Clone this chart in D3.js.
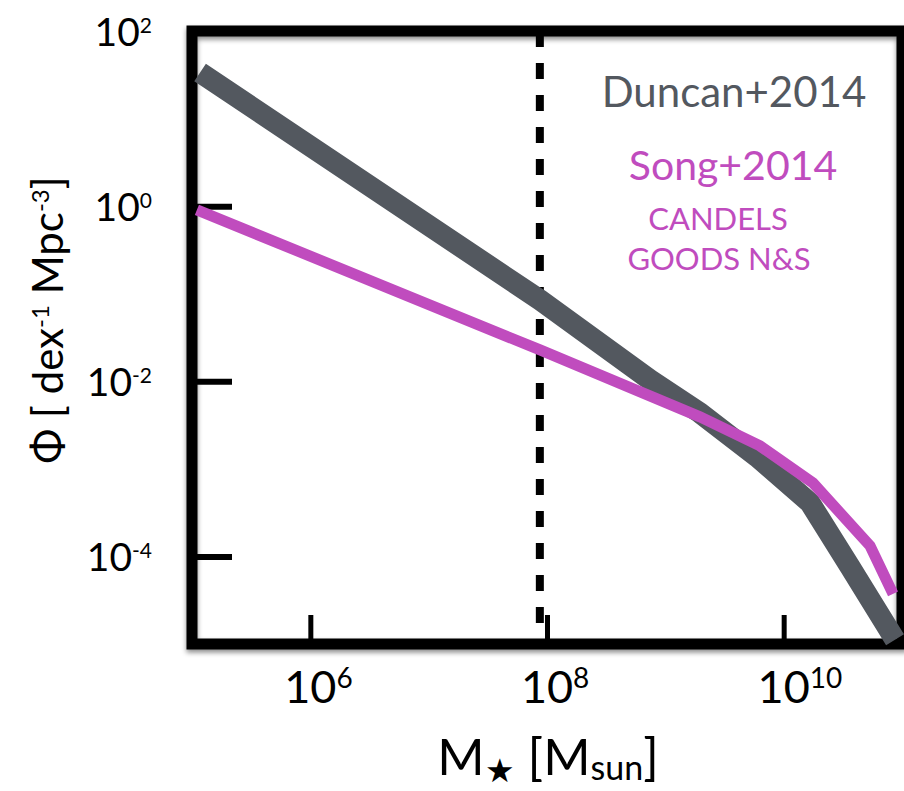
<!DOCTYPE html>
<html>
<head>
<meta charset="utf-8">
<script src="https://cdn.jsdelivr.net/npm/d3@7"></script>
<style>
  html, body { margin: 0; padding: 0; background: #ffffff; }
  svg { display: block; }
  text { font-family: Lato, "Open Sans", sans-serif; }
</style>
</head>
<body>
<svg id="chart" width="904" height="791"></svg>
<script>
// Stellar mass axis ticks (log scale)
const massTicks = [1e6, 1e8, 1e10];
const massTickExp = ["6", "8", "10"];

// Number density axis ticks (log scale)
const phiTicks = [1e2, 1e0, 1e-2, 1e-4];
const phiTickExp = ["2", "0", "-2", "-4"];
const phiTickMarks = [1e0, 1e-2, 1e-4];

// Duncan+2014 mass function
const duncanMass = [1.17e5, 8.73e7, 7.43e8, 1.96e9, 5.96e9, 1.67e10, 3.64e10, 8.73e10];
const duncanPhi  = [33.6, 0.0849, 0.0104, 0.00436, 0.00137, 4.09e-4, 7.6e-5, 1.12e-5];

// Song+2014 mass function (CANDELS GOODS N&S)
const songMass = [1.1e5, 8.73e7, 1.96e9, 6.3e9, 1.77e10, 5.37e10, 8.4e10];
const songPhi  = [0.906, 0.0228, 0.00393, 0.00183, 6.9e-4, 1.32e-4, 3.74e-5];

// Mass completeness limit (dashed vertical line)
const massLimit = 8.7e7;

const GREY = "#53585f";
const MAGENTA = "#c04cbe";

const svg = d3.select("#chart");

const x = d3.scaleLog().domain([1e5, 1e11]).range([192, 902]);
const y = d3.scaleLog().domain([1e-5, 1e2]).range([644, 31]);

// soft shadow under the frame
const defs = svg.append("defs");
const f = defs.append("filter").attr("id", "frameShadow")
  .attr("x", "-5%").attr("y", "-5%").attr("width", "110%").attr("height", "110%");
f.append("feDropShadow").attr("dx", 0).attr("dy", 3)
  .attr("stdDeviation", 2.5).attr("flood-color", "#000").attr("flood-opacity", 0.45);

// tick marks pointing inward
const yAxis = svg.append("g").attr("transform", `translate(${x.range()[0]},0)`)
  .call(d3.axisLeft(y).tickValues(phiTickMarks).tickSize(-40).tickFormat(""));
yAxis.select(".domain").remove();
yAxis.selectAll(".tick line").attr("stroke", "#000").attr("stroke-width", 6);

const xAxis = svg.append("g").attr("transform", `translate(0,${y.range()[0]})`)
  .call(d3.axisBottom(x).tickValues(massTicks).tickSize(-29).tickFormat(""));
xAxis.select(".domain").remove();
xAxis.selectAll(".tick line").attr("stroke", "#000").attr("stroke-width", 5);

// dashed completeness limit
svg.append("line")
  .attr("x1", x(massLimit)).attr("x2", x(massLimit))
  .attr("y1", y(1e2)).attr("y2", y(1e-5))
  .attr("stroke", "#000").attr("stroke-width", 8)
  .attr("stroke-dasharray", "16,16");

// frame
svg.append("rect")
  .attr("x", x.range()[0]).attr("y", y.range()[1])
  .attr("width", x.range()[1] - x.range()[0])
  .attr("height", y.range()[0] - y.range()[1])
  .attr("fill", "none").attr("stroke", "#000").attr("stroke-width", 11)
  .attr("filter", "url(#frameShadow)");

// mass function curves
const line = d3.line().x(d => x(d[0])).y(d => y(d[1]));

svg.append("path")
  .datum(duncanMass.map((m, i) => [m, duncanPhi[i]]))
  .attr("d", line)
  .attr("fill", "none").attr("stroke", GREY).attr("stroke-width", 21)
  .attr("stroke-linejoin", "miter");

svg.append("path")
  .datum(songMass.map((m, i) => [m, songPhi[i]]))
  .attr("d", line)
  .attr("fill", "none").attr("stroke", MAGENTA).attr("stroke-width", 11)
  .attr("stroke-linejoin", "miter");

// y tick labels
const yl = svg.append("g").selectAll("text").data(phiTicks).join("text")
  .attr("x", 152).attr("y", d => y(d) + 15)
  .attr("text-anchor", "end").attr("font-size", 39).attr("fill", "#000");
yl.append("tspan").text("10");
yl.append("tspan").attr("dy", -13).attr("font-size", 21).text((d, i) => phiTickExp[i]);

// x tick labels: the "10" is centred on its tick
const xl = svg.append("g").selectAll("text").data(massTicks).join("text")
  .attr("y", 703).attr("font-size", 45).attr("fill", "#000");
xl.append("tspan").text("10");
xl.append("tspan").attr("dy", -15).attr("font-size", 28).text((d, i) => massTickExp[i]);
xl.attr("x", function (d) {
  const w = this.firstChild.getComputedTextLength();
  return x(d) - w / 2;
});

// y axis title
const yt = svg.append("text")
  .attr("transform", "translate(63,320) rotate(-90)")
  .attr("text-anchor", "middle").attr("font-size", 42).attr("fill", "#000");
yt.append("tspan").text("\u03A6 [ dex");
yt.append("tspan").attr("dy", -14).attr("font-size", 24).text("-1");
yt.append("tspan").attr("dy", 14).text(" Mpc");
yt.append("tspan").attr("dy", -14).attr("font-size", 24).text("-3");
yt.append("tspan").attr("dy", 14).text("]");

// x axis title
const xt = svg.append("text")
  .attr("x", 548).attr("y", 775)
  .attr("text-anchor", "middle").attr("font-size", 51).attr("fill", "#000");
xt.append("tspan").text("M");
xt.append("tspan").attr("dy", 7).attr("font-size", 33).text("\u2605");
xt.append("tspan").attr("dy", -7).text(" [M");
xt.append("tspan").attr("dy", 5).attr("font-size", 34).text("sun");
xt.append("tspan").attr("dy", -5).text("]");

// legend
const legend = [
  { text: "Duncan+2014", x: 734, y: 107, size: 42, color: GREY },
  { text: "Song+2014", x: 733, y: 180, size: 41, color: MAGENTA },
  { text: "CANDELS", x: 718, y: 230, size: 31, color: MAGENTA },
  { text: "GOODS N&S", x: 719, y: 270, size: 31, color: MAGENTA }
];
svg.append("g").selectAll("text").data(legend).join("text")
  .attr("x", d => d.x).attr("y", d => d.y)
  .attr("text-anchor", "middle")
  .attr("font-size", d => d.size)
  .attr("fill", d => d.color)
  .text(d => d.text);
</script>
</body>
</html>
